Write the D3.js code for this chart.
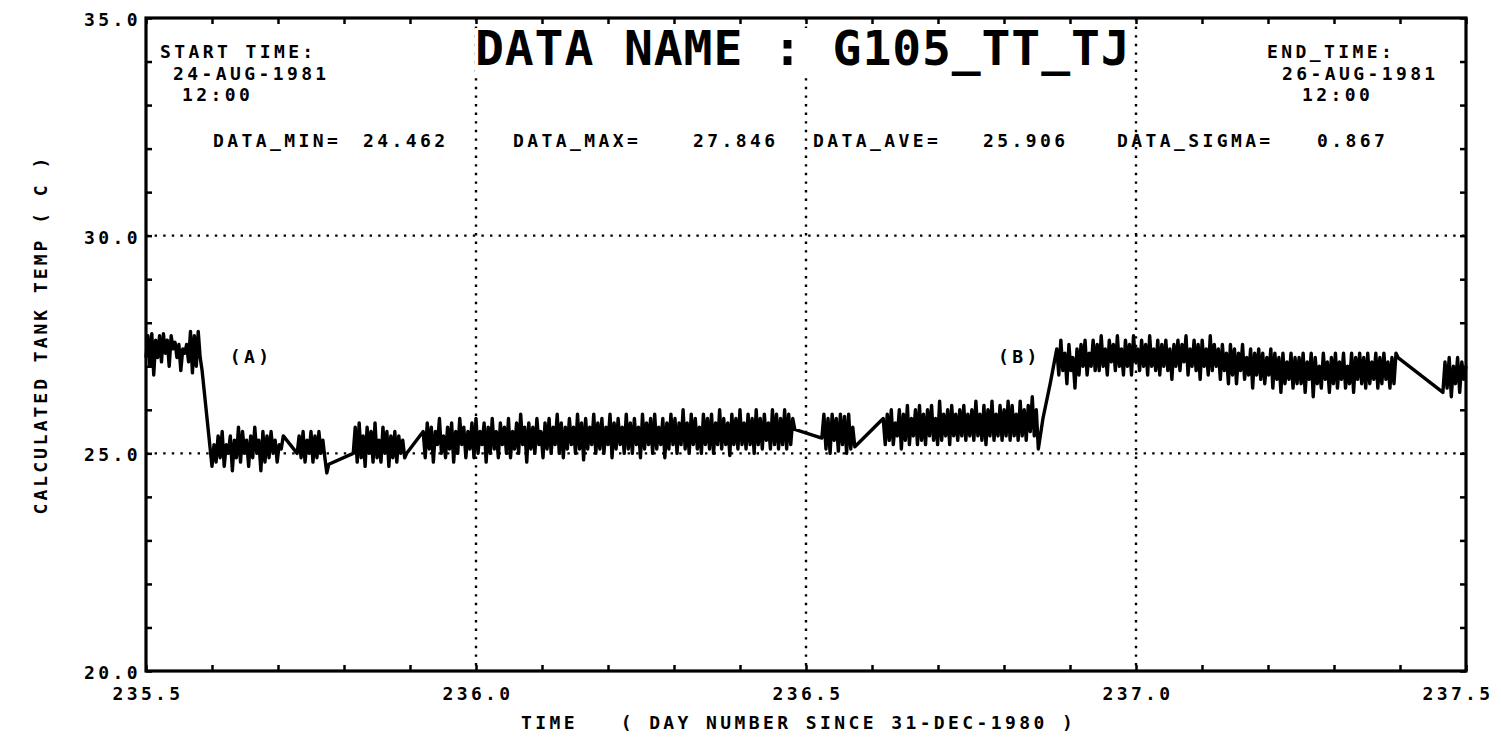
<!DOCTYPE html>
<html>
<head>
<meta charset="utf-8">
<script src="https://cdn.jsdelivr.net/npm/d3@7"></script>
<style>
  body { margin: 0; background: #fff; }
  svg text { font-family: 'DejaVu Sans Mono', monospace; font-weight: bold; fill: #000; }
</style>
</head>
<body>
<svg id="chart" width="1501" height="737"></svg>
<script>

// ---- values ----

const xTickLabels = ['235.5', '236.0', '236.5', '237.0', '237.5'];
const yTickLabels = ['20.0', '25.0', '30.0', '35.0'];
const gridDays = [236.0, 236.5, 237.0];
const gridTemps = [25, 30];

const statNames = ['DATA_MIN=', 'DATA_MAX=', 'DATA_AVE=', 'DATA_SIGMA='];
const statValues = ['24.462', '27.846', '25.906', '0.867'];

const startLines = ['START TIME:', '24-AUG-1981', '12:00'];
const endLines = ['END_TIME:', '26-AUG-1981', '12:00'];

// recorded runs of the temperature trace (deg C), samples evenly spread over each run
const run1 = [27.2, 27.7, 27.0, 27.75, 26.8, 27.6, 27.2, 27.7, 27.1, 27.75, 27.3, 27.6, 27.0, 27.7, 27.4, 27.55, 27.2, 27.5, 26.9, 27.4,
  27.3, 27.5, 27.1, 27.8, 26.85, 27.7, 27.0, 27.8, 27.2, 26.9];
const run2 = [24.7, 25.2, 24.8, 25.4, 24.9, 25.5, 24.7, 25.2, 25.0, 25.4, 24.6, 25.3, 24.9, 25.6, 24.8, 25.5, 25.0, 25.3, 24.7, 25.4,
  24.9, 25.6, 25.0, 25.3, 24.6, 25.5, 24.8, 25.4, 24.9, 25.5, 25.0, 25.3, 24.8, 25.2, 25.1, 25.4];
const run3 = [25.0, 25.4, 24.9, 25.5, 24.8, 25.3, 25.0, 25.5, 24.8, 25.4, 24.9, 25.5, 25.0, 25.3, 24.9, 24.55];
const run4 = [24.75, 25.0];
const run5 = [25.0, 25.6, 24.8, 25.7, 24.9, 25.4, 24.7, 25.6, 25.0, 25.5, 24.8, 25.7, 24.9, 25.3, 24.8, 25.6, 25.0, 25.5, 24.7, 25.4,
  24.9, 25.5, 24.8, 25.4, 25.0, 25.3, 24.9, 25.0];
const run6 = [
  25.5, 24.9, 25.7, 25.1, 25.6, 24.8, 25.5, 25.2, 25.8, 25.0, 25.4, 24.9, 25.6, 25.1, 25.7, 24.8, 25.5, 25.0, 25.8, 25.2,
  25.6, 24.9, 25.5, 25.1, 25.7, 24.9, 25.8, 25.0, 25.5, 25.2, 25.7, 24.8, 25.6, 25.0, 25.8, 25.1, 25.5, 24.9, 25.7, 25.2,
  25.6, 25.0, 25.8, 24.9, 25.5, 25.1, 25.7, 25.0, 25.9, 25.2, 25.6, 24.8, 25.7, 25.1, 25.6, 25.0, 25.8, 25.2, 25.5, 24.9,
  25.7, 25.1, 25.8, 25.0, 25.6, 25.2, 25.9, 25.0, 25.7, 24.9, 25.6, 25.1, 25.8, 25.2, 25.6, 25.0, 25.9, 25.1, 25.7, 24.85,
  25.8, 25.1, 25.6, 25.2, 25.9, 25.0, 25.7, 25.1, 25.8, 25.0, 25.6, 25.2, 25.9, 24.9, 25.7, 25.1, 25.8, 25.2, 25.6, 25.0,
  25.9, 25.1, 25.7, 25.0, 25.8, 25.2, 25.6, 24.9, 25.9, 25.1, 25.7, 25.2, 25.8, 25.0, 25.9, 25.1, 25.6, 25.2, 25.8, 24.9,
  25.7, 25.1, 25.9, 25.2, 25.8, 25.0, 25.7, 25.2, 26.0, 25.1, 25.7, 25.0, 25.9, 25.2, 25.8, 25.1, 25.6, 25.0, 25.9, 25.2,
  25.8, 25.1, 25.9, 25.0, 25.7, 25.2, 26.0, 25.1, 25.8, 25.2, 25.7, 24.95, 25.9, 25.2, 25.8, 25.1, 26.0, 25.2, 25.7, 25.1,
  25.9, 25.2, 25.8, 25.0, 26.0, 25.2, 25.8, 25.1, 25.9, 25.3, 25.7, 25.1, 26.0, 25.2, 25.9, 25.1, 25.8, 25.2, 26.0, 25.1,
  25.9, 25.2, 25.8, 25.55
];
const run7 = [25.35, 25.9, 25.1, 25.8, 25.0, 25.9, 25.3, 25.8, 25.05, 25.9, 25.2, 25.85, 25.0, 25.9, 25.1, 25.6, 25.15];
const run8 = [
  25.8, 25.2, 25.9, 25.3, 26.0, 25.2, 25.7, 25.4, 26.0, 25.1, 25.9, 25.3, 26.1, 25.2, 25.8, 25.4, 26.0, 25.2, 26.1, 25.3,
  25.9, 25.2, 26.0, 25.4, 26.1, 25.3, 25.8, 25.2, 26.2, 25.3, 25.9, 25.4, 26.0, 25.2, 26.1, 25.4, 25.9, 25.3, 26.0, 25.4,
  26.1, 25.3, 25.9, 25.4, 26.0, 25.3, 26.2, 25.4, 25.9, 25.3, 26.1, 25.2, 26.0, 25.4, 26.2, 25.3, 25.9, 25.4, 26.1, 25.3,
  26.0, 25.4, 26.2, 25.3, 26.1, 25.4, 25.9, 25.3, 26.2, 25.4, 26.0, 25.3, 26.1, 25.5, 26.3, 25.4, 26.0, 25.1
];
const run9 = [25.8, 26.6];
const run10 = [
  27.4, 26.8, 27.6, 26.9, 27.3, 26.6, 27.5, 26.9, 27.2, 26.5, 27.4, 26.8, 27.5, 27.0, 27.6, 26.8, 27.3, 27.0, 27.6, 26.9,
  27.5, 26.9, 27.7, 27.0, 27.4, 26.8, 27.6, 27.1, 27.5, 26.9, 27.7, 27.0, 27.4, 26.8, 27.6, 27.0, 27.5, 26.8, 27.7, 27.1,
  27.4, 26.9, 27.6, 27.0, 27.5, 26.8, 27.7, 27.0, 27.4, 26.9, 27.6, 26.8, 27.5, 27.0, 27.6, 26.9, 27.4, 26.7, 27.5, 27.0,
  27.6, 26.9, 27.5, 27.1, 27.7, 26.8, 27.4, 27.0, 27.6, 26.9, 27.5, 26.7, 27.6, 27.0, 27.4, 26.8, 27.7, 26.9, 27.5, 27.0,
  27.4, 26.7, 27.5, 26.9, 27.3, 26.6, 27.5, 26.8, 27.4, 26.6, 27.3, 26.9, 27.5, 26.7, 27.2, 26.8, 27.4, 26.5, 27.3, 26.8,
  27.4, 26.7, 27.3, 26.6, 27.2, 26.8, 27.4, 26.5, 27.3, 26.7, 27.2, 26.4, 27.3, 26.6, 27.1, 26.7, 27.3, 26.5, 27.2, 26.6,
  27.2, 26.6, 27.3, 26.4, 27.1, 26.7, 27.3, 26.3, 27.2, 26.6, 27.0, 26.5, 27.3, 26.7, 27.1, 26.4, 27.2, 26.6, 27.3, 26.5,
  27.1, 26.7, 27.3, 26.5, 27.0, 26.6, 27.3, 26.4, 27.2, 26.7, 27.3, 26.6, 27.2, 26.5, 27.3, 26.6, 27.1, 26.7, 27.3, 26.5,
  27.2, 26.6, 27.3, 26.7, 27.1, 26.5, 27.2, 26.6, 27.3, 27.2
];
const run11 = [26.4, 27.1, 26.5, 27.2, 26.3, 27.0, 26.6, 27.2, 26.4, 27.1, 26.7, 27.0];

const runs = [run1, run2, run3, run4, run5, run6, run7, run8, run9, run10, run11];
const runStart = [235.500, 235.600, 235.729, 235.777, 235.814, 235.920, 236.524, 236.617, 236.859, 236.880, 237.465];
const runEnd   = [235.585, 235.708, 235.774, 235.814, 235.895, 236.483, 236.574, 236.852, 236.870, 237.397, 237.500];


// ---- layout ----

const pLeft = 146, pRight = 1466, pTop = 18, pBottom = 671;

const svg = d3.select('#chart');

const x = d3.scaleLinear().domain([235.5, 237.5]).range([pLeft, pRight]);
const y = d3.scaleLinear().domain([20, 35]).range([pBottom, pTop]);

// trace points
const trace = [];
runs.forEach((vals, k) => {
  vals.forEach((v, i) => {
    const f = vals.length > 1 ? i / (vals.length - 1) : 0;
    trace.push([runStart[k] + (runEnd[k] - runStart[k]) * f, v]);
  });
});

// dotted grid
const grid = svg.append('g').attr('stroke', '#000').attr('stroke-width', 2.4).attr('stroke-dasharray', '2.4 6.2');
grid.selectAll('.gx').data(gridDays).enter().append('line')
  .attr('x1', d => x(d)).attr('x2', d => x(d)).attr('y1', pTop).attr('y2', pBottom);
grid.selectAll('.gy').data(gridTemps).enter().append('line')
  .attr('x1', pLeft).attr('x2', pRight).attr('y1', d => y(d)).attr('y2', d => y(d));

// the trace, drawn heavy like the plotter pen
svg.append('path').datum(trace)
  .attr('fill', 'none').attr('stroke', '#000').attr('stroke-width', 3.4).attr('stroke-linejoin', 'round')
  .attr('d', d3.line().x(d => x(d[0])).y(d => y(d[1])));

// axes with inward ticks
const axes = svg.append('g');
axes.append('g').attr('transform', `translate(0,${pBottom})`)
  .call(d3.axisBottom(x).ticks(20).tickSize(-6).tickFormat(''));
axes.append('g').attr('transform', `translate(0,${pTop})`)
  .call(d3.axisTop(x).ticks(20).tickSize(-6).tickFormat(''));
axes.append('g').attr('transform', `translate(${pLeft},0)`)
  .call(d3.axisLeft(y).ticks(15).tickSize(-6).tickFormat(''));
axes.append('g').attr('transform', `translate(${pRight},0)`)
  .call(d3.axisRight(y).ticks(15).tickSize(-6).tickFormat(''));
axes.selectAll('.domain').remove();
axes.selectAll('line').attr('stroke', '#000').attr('stroke-width', 2.5);

svg.append('rect').attr('x', pLeft).attr('y', pTop).attr('width', pRight - pLeft).attr('height', pBottom - pTop)
  .attr('fill', 'none').attr('stroke', '#000').attr('stroke-width', 3.2);

// text helpers
const small = sel => sel.style('font-size', '18px').style('letter-spacing', '3.4px');

// tick labels
svg.selectAll('.xl').data(xTickLabels).enter().append('text')
  .call(small).attr('text-anchor', 'middle')
  .attr('x', d => Math.min(x(+d) + 2, 1458)).attr('y', 700).text(d => d);
svg.selectAll('.yl').data(yTickLabels).enter().append('text')
  .call(small).attr('text-anchor', 'end')
  .attr('x', 141).attr('y', d => y(+d) + 8).text(d => d);

// axis titles
svg.append('text').call(small).attr('x', 521).attr('y', 729).attr('xml:space', 'preserve')
  .text('TIME   ( DAY NUMBER SINCE 31-DEC-1980 )');
svg.append('text').call(small).style('letter-spacing', '3px')
  .attr('text-anchor', 'middle').attr('xml:space', 'preserve')
  .attr('transform', `translate(47,${(pTop + pBottom) / 2 - 10}) rotate(-90)`)
  .text('CALCULATED TANK TEMP ( C )');

// header
const title = svg.append('text').style('font-size', '48px').style('letter-spacing', '0.9px')
  .attr('x', 475).attr('y', 65).text('DATA NAME : G105_TT_TJ');
const tb = title.node().getBBox();
svg.insert('rect', () => title.node()).attr('x', tb.x).attr('y', tb.y + 8).attr('width', tb.width - 4).attr('height', tb.height - 8)
  .attr('fill', '#fff');

const headX = [160, 173, 182];
const endX = [1267, 1282, 1302];
const headY = [58, 80, 101];
svg.selectAll('.st').data(startLines).enter().append('text').call(small)
  .attr('x', (d, i) => headX[i]).attr('y', (d, i) => headY[i]).text(d => d);
svg.selectAll('.et').data(endLines).enter().append('text').call(small)
  .attr('x', (d, i) => endX[i]).attr('y', (d, i) => headY[i]).text(d => d);

const statX = [213, 513, 813, 1117];
const valX = [363, 693, 983, 1317];
svg.selectAll('.sn').data(statNames).enter().append('text').call(small)
  .attr('x', (d, i) => statX[i]).attr('y', 147).text(d => d);
svg.selectAll('.sv').data(statValues).enter().append('text').call(small)
  .attr('x', (d, i) => valX[i]).attr('y', 147).text(d => d);

// event markers
svg.append('text').call(small).attr('x', x(235.627)).attr('y', 363).text('(A)');
svg.append('text').call(small).attr('x', x(236.791)).attr('y', 363).text('(B)');

</script>
</body>
</html>
